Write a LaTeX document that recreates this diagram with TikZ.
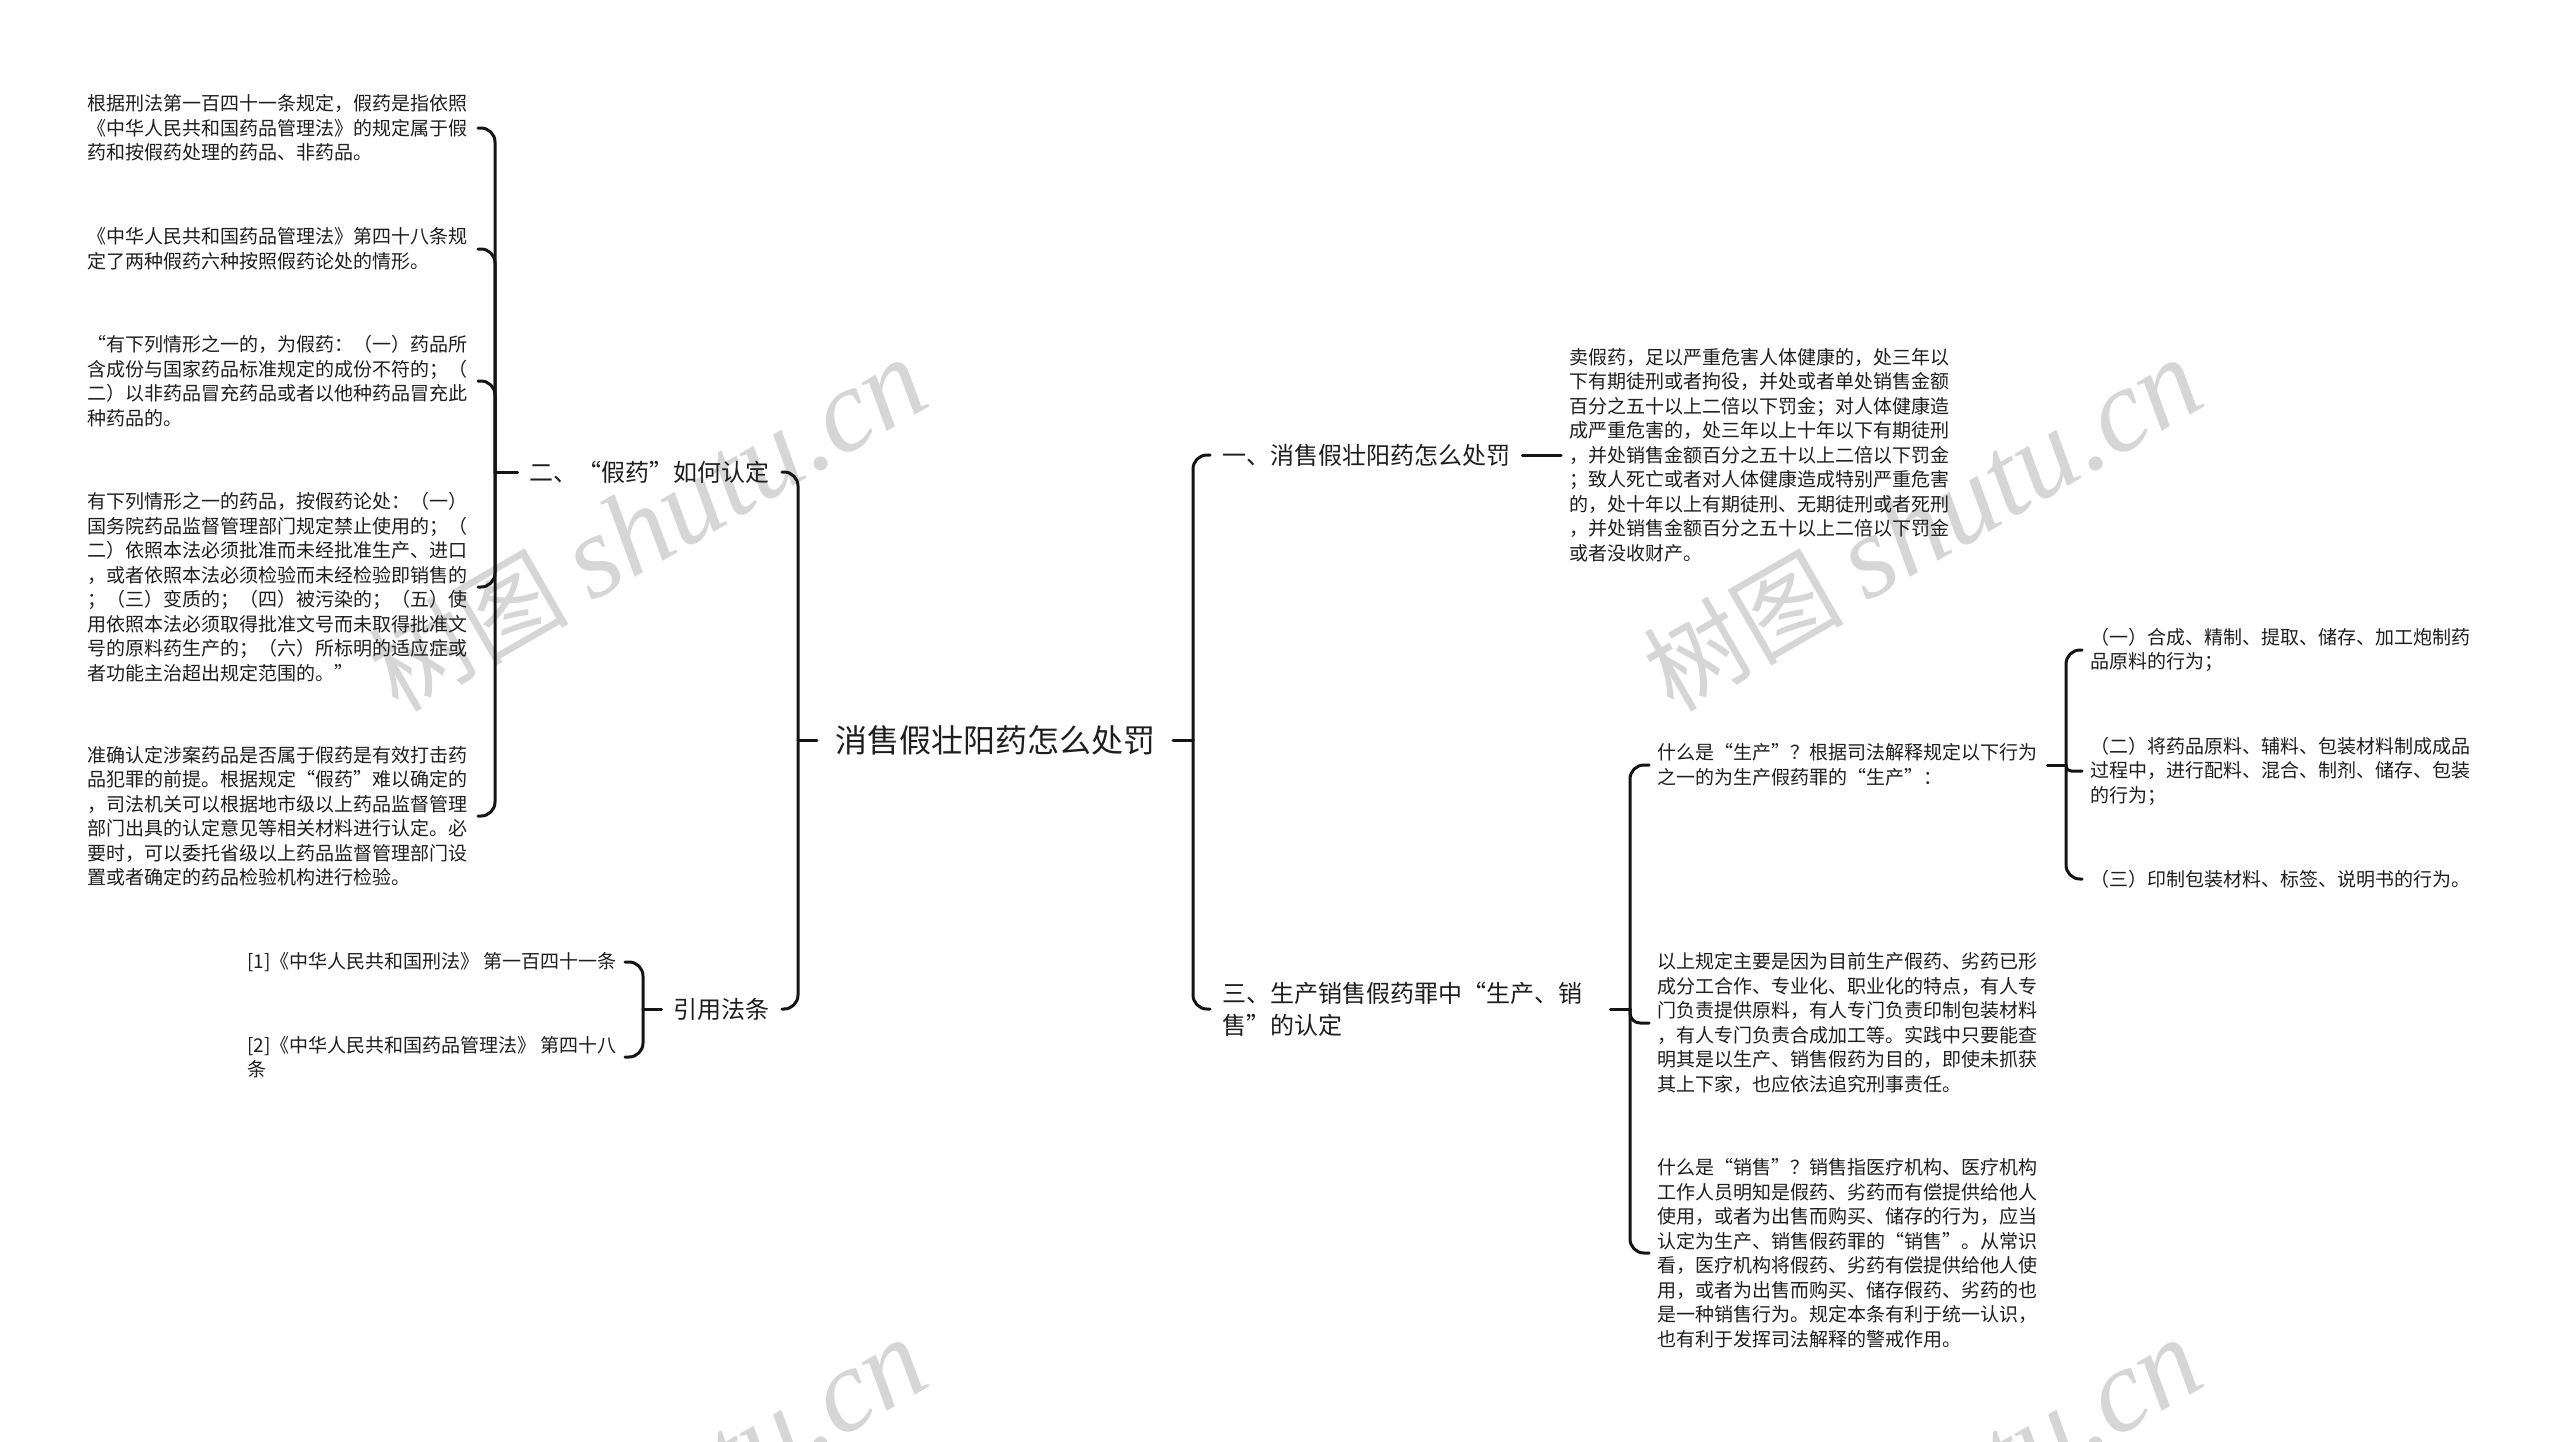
\documentclass[tikz,border=0pt]{standalone}
\usepackage{fontspec}
\setmainfont{Noto Sans CJK SC}
\newfontfamily\wmlatin{Liberation Serif}
\definecolor{txt}{RGB}{30,30,30}
\definecolor{lin}{RGB}{20,20,20}
\definecolor{wmc}{RGB}{214,214,214}
\tikzset{
  leaf/.style={font=\fontsize{19pt}{24.5pt}\selectfont, text=txt, inner xsep=8pt, inner ysep=0pt, align=left, text width=382pt},
  leafn/.style={font=\fontsize{19pt}{24.5pt}\selectfont, text=txt, inner xsep=8pt, inner ysep=0pt, align=left},
  branch/.style={font=\fontsize{24pt}{32pt}\selectfont, text=txt, inner xsep=12pt, inner ysep=0pt, align=left},
  rootn/.style={font=\fontsize{32pt}{40pt}\selectfont, text=txt, inner xsep=18pt, inner ysep=0pt},
  conn/.style={line width=3pt, draw=lin, line cap=round, line join=round},
  rc/.style={rounded corners=14pt},
  rcs/.style={rounded corners=5pt},
  wm/.style={text=wmc, rotate=30, inner sep=0pt}
}
\begin{document}
\begin{tikzpicture}[x=1pt,y=-1pt]
\useasboundingbox (0,0) rectangle (2560,1441);
\fill[white] (0,0) rectangle (2560,1441);
% watermarks
\node[wm] (wm1) at (648,526) {\fontsize{100pt}{110pt}\selectfont 树图 {\wmlatin\itshape\fontsize{118pt}{120pt}\selectfont shutu.cn}};
\node[wm] (wm2) at (1923,526) {\fontsize{100pt}{110pt}\selectfont 树图 {\wmlatin\itshape\fontsize{118pt}{120pt}\selectfont shutu.cn}};
\node[wm] (wm3) at (648,1506) {\fontsize{100pt}{110pt}\selectfont 树图 {\wmlatin\itshape\fontsize{118pt}{120pt}\selectfont shutu.cn}};
\node[wm] (wm4) at (1923,1506) {\fontsize{100pt}{110pt}\selectfont 树图 {\wmlatin\itshape\fontsize{118pt}{120pt}\selectfont shutu.cn}};
% bar positions
\coordinate (bL) at (798,0);
\coordinate (bR) at (1193,0);
\coordinate (b2) at (495,0);
\coordinate (bc) at (643,0);
\coordinate (b3) at (1630,0);
\coordinate (bs) at (2066,0);
% nodes
\node[rootn] (root) at (995,740) {消售假壮阳药怎么处罚};
\node[branch, anchor=east] (n2) at (782,472) {二、“假药”如何认定};
\node[branch, anchor=east] (nc) at (782,1009) {引用法条};
\node[branch, anchor=west] (n1) at (1210,455) {一、消售假壮阳药怎么处罚};
\node[branch, anchor=west, text width=376pt] (n3) at (1210,1009) {三、生产销售假药罪中“生产、销\\售”的认定};
\node[leaf, anchor=east] (t1) at (478,128) {根据刑法第一百四十一条规定，假药是指依照\\《中华人民共和国药品管理法》的规定属于假\\药和按假药处理的药品、非药品。};
\node[leaf, anchor=east] (t2) at (478,249) {《中华人民共和国药品管理法》第四十八条规\\定了两种假药六种按照假药论处的情形。};
\node[leaf, anchor=east] (t3) at (478,381) {“有下列情形之一的，为假药：（一）药品所\\含成份与国家药品标准规定的成份不符的；（\\二）以非药品冒充药品或者以他种药品冒充此\\种药品的。};
\node[leaf, anchor=east] (t4) at (478,587) {有下列情形之一的药品，按假药论处：（一）\\国务院药品监督管理部门规定禁止使用的；（\\二）依照本法必须批准而未经批准生产、进口\\，或者依照本法必须检验而未经检验即销售的\\；（三）变质的；（四）被污染的；（五）使\\用依照本法必须取得批准文号而未取得批准文\\号的原料药生产的；（六）所标明的适应症或\\者功能主治超出规定范围的。”};
\node[leaf, anchor=east] (t5) at (478,816) {准确认定涉案药品是否属于假药是有效打击药\\品犯罪的前提。根据规定“假药”难以确定的\\，司法机关可以根据地市级以上药品监督管理\\部门出具的认定意见等相关材料进行认定。必\\要时，可以委托省级以上药品监督管理部门设\\置或者确定的药品检验机构进行检验。};
\node[leafn, anchor=east] (l1) at (625,962) {[1]《中华人民共和国刑法》 第一百四十一条};
\node[leafn, anchor=east] (l2) at (625,1057) {[2]《中华人民共和国药品管理法》 第四十八\\条};
\node[leaf, anchor=west] (x1) at (1561,455) {卖假药，足以严重危害人体健康的，处三年以\\下有期徒刑或者拘役，并处或者单处销售金额\\百分之五十以上二倍以下罚金；对人体健康造\\成严重危害的，处三年以上十年以下有期徒刑\\，并处销售金额百分之五十以上二倍以下罚金\\；致人死亡或者对人体健康造成特别严重危害\\的，处十年以上有期徒刑、无期徒刑或者死刑\\，并处销售金额百分之五十以上二倍以下罚金\\或者没收财产。};
\node[leaf, anchor=west] (s1) at (1649,765) {什么是“生产”？根据司法解释规定以下行为\\之一的为生产假药罪的“生产”：};
\node[leaf, anchor=west] (s2) at (1649,1023) {以上规定主要是因为目前生产假药、劣药已形\\成分工合作、专业化、职业化的特点，有人专\\门负责提供原料，有人专门负责印制包装材料\\，有人专门负责合成加工等。实践中只要能查\\明其是以生产、销售假药为目的，即使未抓获\\其上下家，也应依法追究刑事责任。};
\node[leaf, anchor=west] (s3) at (1649,1253) {什么是“销售”？销售指医疗机构、医疗机构\\工作人员明知是假药、劣药而有偿提供给他人\\使用，或者为出售而购买、储存的行为，应当\\认定为生产、销售假药罪的“销售”。从常识\\看，医疗机构将假药、劣药有偿提供给他人使\\用，或者为出售而购买、储存假药、劣药的也\\是一种销售行为。规定本条有利于统一认识，\\也有利于发挥司法解释的警戒作用。};
\node[leaf, anchor=west] (r1) at (2082,650) {（一）合成、精制、提取、储存、加工炮制药\\品原料的行为；};
\node[leaf, anchor=west] (r2) at (2082,771) {（二）将药品原料、辅料、包装材料制成成品\\过程中，进行配料、混合、制剂、储存、包装\\的行为；};
\node[leaf, anchor=west] (r3) at (2082,879) {（三）印制包装材料、标签、说明书的行为。};
% connectors: root
\draw[conn] (root.west) -- (root.west -| bL);
\draw[conn, rc] (root.west -| bL) |- (n2.east);
\draw[conn, rc] (root.west -| bL) |- (nc.east);
\draw[conn] (root.east) -- (root.east -| bR);
\draw[conn, rc] (root.east -| bR) |- (n1.west);
\draw[conn, rc] (root.east -| bR) |- (n3.west);
% n2
\draw[conn] (n2.west) -- (n2.west -| b2);
\draw[conn, rc] (n2.west -| b2) |- (t1.east);
\draw[conn, rc] (n2.west -| b2) |- (t2.east);
\draw[conn, rc] (n2.west -| b2) |- (t3.east);
\draw[conn, rc] (n2.west -| b2) |- (t4.east);
\draw[conn, rc] (n2.west -| b2) |- (t5.east);
% nc
\draw[conn] (nc.west) -- (nc.west -| bc);
\draw[conn, rc] (nc.west -| bc) |- (l1.east);
\draw[conn, rc] (nc.west -| bc) |- (l2.east);
% n1
\draw[conn] (n1.east) -- (x1.west);
% n3
\draw[conn] (n3.east) -- (n3.east -| b3);
\draw[conn, rc] (n3.east -| b3) |- (s1.west);
\draw[conn, rounded corners=10pt] (n3.east -| b3) |- (s2.west);
\draw[conn, rc] (n3.east -| b3) |- (s3.west);
% s1
\draw[conn] (s1.east) -- (s1.east -| bs);
\draw[conn, rc] (s1.east -| bs) |- (r1.west);
\draw[conn, rcs] (s1.east -| bs) |- (r2.west);
\draw[conn, rc] (s1.east -| bs) |- (r3.west);
\end{tikzpicture}
\end{document}
